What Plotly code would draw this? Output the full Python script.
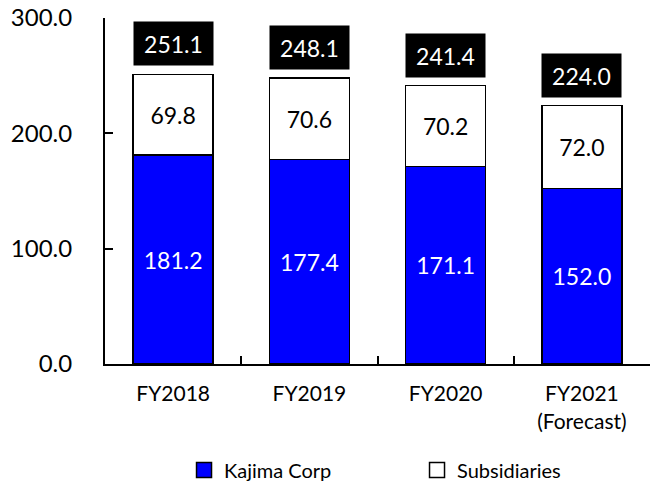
import plotly.graph_objects as go

years = ["FY2018", "FY2019", "FY2020", "FY2021<br>(Forecast)"]
kajima = [181.2, 177.4, 171.1, 152.0]
subsidiaries = [69.8, 70.6, 70.2, 72.0]
totals = [251.1, 248.1, 241.4, 224.0]
y_ticks = [0, 100, 200, 300]

FONT = "Lato"

fig = go.Figure()

fig.add_trace(go.Bar(
    x=years, y=kajima, name="Kajima Corp",
    marker=dict(color="#0000FF", line=dict(color="black", width=1.5)),
    text=[f"{v:.1f}" for v in kajima], textposition="inside",
    insidetextanchor="middle", textfont=dict(color="white", size=23, family=FONT),
    width=0.587, showlegend=False,
))
fig.add_trace(go.Bar(
    x=years, y=subsidiaries, name="Subsidiaries",
    marker=dict(color="white", line=dict(color="black", width=1.5)),
    text=[f"{v:.1f}" for v in subsidiaries], textposition="inside",
    insidetextanchor="middle", textfont=dict(color="black", size=23, family=FONT),
    width=0.587, showlegend=False,
))

# legend entries with bigger square swatches
for name, col in [("Kajima Corp", "#0000FF"), ("Subsidiaries", "white")]:
    fig.add_trace(go.Scatter(
        x=[None], y=[None], mode="markers", name=name,
        marker=dict(symbol="square", size=15, color=col,
                    line=dict(color="black", width=1.5)),
    ))

# total boxes above each bar
for x, t in zip(years, totals):
    fig.add_annotation(
        x=x, y=t, text=f"{t:.1f}", showarrow=False,
        yanchor="bottom", yshift=8,
        bgcolor="black", width=75, height=39, borderpad=2,
        font=dict(color="white", size=23, family=FONT),
    )

fig.update_layout(
    barmode="stack",
    width=650, height=483,
    margin=dict(l=105, r=0, t=18, b=119, autoexpand=False),
    plot_bgcolor="white", paper_bgcolor="white",
    font=dict(family=FONT, size=20, color="black"),
    legend=dict(
        orientation="h", x=0.145, xanchor="left", y=-0.306, yanchor="middle",
        entrywidth=188, font=dict(size=20, family=FONT),
        itemsizing="trace", traceorder="normal",
    ),
    uniformtext=dict(minsize=10, mode="show"),
)
fig.update_xaxes(
    type="category", range=[-0.5, 3.5],
    showline=True, linecolor="black", linewidth=2,
    ticks="inside", ticklen=8, tickcolor="black", tickwidth=1.5,
    tickson="boundaries", showgrid=False,
    tickfont=dict(size=21, family=FONT),
    ticklabelstandoff=10, automargin=False,
)
fig.update_yaxes(
    range=[0, 300], tickvals=y_ticks, ticktext=[f"{v:.1f}" for v in y_ticks],
    showline=True, linecolor="black", linewidth=2,
    ticks="inside", ticklen=8, tickcolor="black", tickwidth=1.5,
    showgrid=False, zeroline=False,
    tickfont=dict(size=24, family=FONT),
    ticklabelstandoff=26, automargin=False,
)

# drop the browser's default page margin so the figure sits at 0,0
fig.write_html("out.html", config={"displayModeBar": False},
               post_script="document.body.style.margin = '0';")
